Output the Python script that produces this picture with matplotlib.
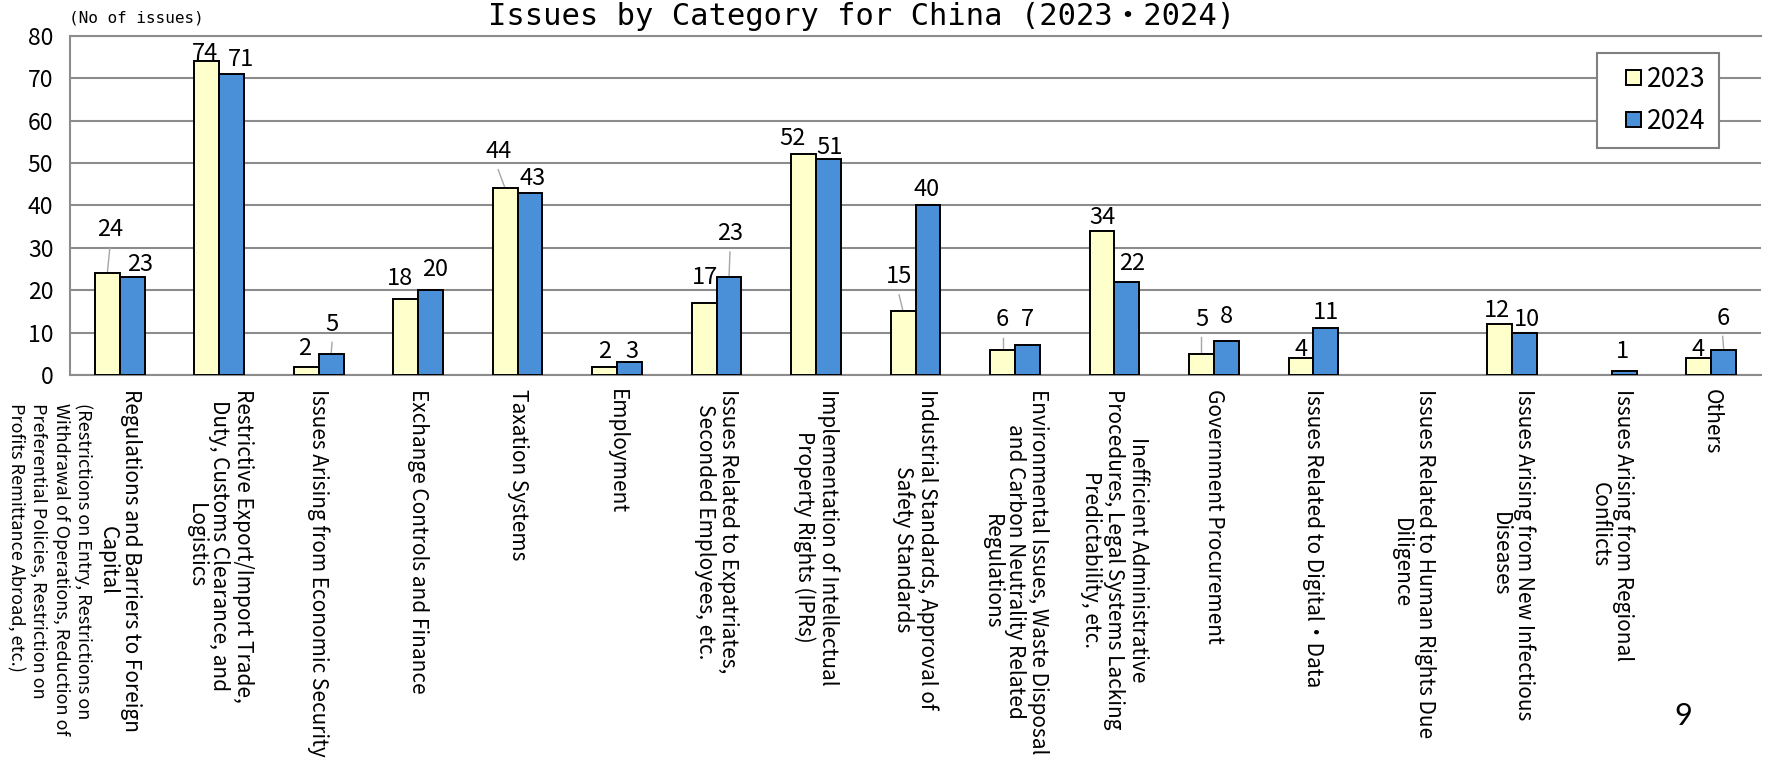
import numpy as np
import matplotlib.pyplot as plt
from matplotlib.patches import Rectangle
from matplotlib.legend_handler import HandlerPatch
from matplotlib.transforms import blended_transform_factory

plt.rcParams['font.family'] = ['Noto Sans CJK JP', 'DejaVu Sans']
MONO = ['DejaVu Sans Mono', 'Noto Sans CJK JP']

categories = [
    "Regulations and Barriers to Foreign\nCapital",
    "Restrictive Export/Import Trade,\nDuty, Customs Clearance, and\nLogistics",
    "Issues Arising from Economic Security",
    "Exchange Controls and Finance",
    "Taxation Systems",
    "Employment",
    "Issues Related to Expatriates,\nSeconded Employees, etc.",
    "Implementation of Intellectual\nProperty Rights (IPRs)",
    "Industrial Standards, Approval of\nSafety Standards",
    "Environmental Issues, Waste Disposal\nand Carbon Neutrality Related\nRegulations",
    "Inefficient Administrative\nProcedures, Legal Systems Lacking\nPredictability, etc.",
    "Government Procurement",
    "Issues Related to Digital・Data",
    "Issues Related to Human Rights Due\nDiligence",
    "Issues Arising from New Infectious\nDiseases",
    "Issues Arising from Regional\nConflicts",
    "Others",
]
first_note = ("(Restrictions on Entry, Restrictions on\n"
              "Withdrawal of Operations, Reduction of\n"
              "Preferential Policies, Restriction on\n"
              "Profits Remittance Abroad, etc.)")

issues_2023 = [24, 74, 2, 18, 44, 2, 17, 52, 15, 6, 34, 5, 4, np.nan, 12, np.nan, 4]
issues_2024 = [23, 71, 5, 20, 43, 3, 23, 51, 40, 7, 22, 8, 11, np.nan, 10, 1, 6]

# value labels: height above the bar top (data units) and sideways nudge (px)
lift_2023 = [10.2, 1.9, 4.3, 4.8, 8.7, 3.5, 6.0, 3.8, 8.2, 7.0, 3.1, 8.2, 2.1, 0, 3.2, 0, 2.1]
lift_2024 = [3.1, 3.3, 7.0, 4.8, 3.3, 2.5, 10.3, 2.7, 3.8, 6.0, 4.3, 5.8, 3.7, 0, 3.1, 4.5, 7.4]
nudge_2023 = [2.5, -2, -1.5, -5.5, -7, 0, 1, -11.5, -4, 0, 0, 0, 0, 0, -3, 0, -1]
nudge_2024 = [7.5, 9, 1, 5, 2.5, 2, 1, 1, -1.6, 0, 5, 0, 0, 0, 2.4, -1.4, -1]

W, H = 1767, 759
fig = plt.figure(figsize=(W / 100, H / 100), dpi=100)
ax_l, ax_r, ax_t, ax_b = 70, 1761, 35.7, 375
ax = fig.add_axes([ax_l / W, 1 - ax_b / H, (ax_r - ax_l) / W, (ax_b - ax_t) / H])

x = np.arange(len(categories))
bw = 0.25
bars_23 = ax.bar(x - bw / 2, issues_2023, bw, color='#FFFFCC', edgecolor='black',
                 linewidth=1.4, zorder=3)
bars_24 = ax.bar(x + bw / 2, issues_2024, bw, color='#4A90D9', edgecolor='black',
                 linewidth=1.4, zorder=3)

ax.set_xlim(-0.5, len(categories) - 0.5)
ax.set_ylim(0, 80)
ax.set_yticks(range(0, 81, 10))
ax.set_xticks([])
ax.tick_params(axis='y', length=0, pad=12, labelsize=16.5)
ax.yaxis.grid(True, color='#8c8c8c', linewidth=1.5)
ax.set_axisbelow(True)
for side in ['left', 'bottom', 'top']:
    ax.spines[side].set_color('#8c8c8c')
    ax.spines[side].set_linewidth(1.5)
ax.spines['right'].set_visible(False)

px_per_cat = (ax_r - ax_l) / len(categories)
for vals, lifts, nudges, off in [(issues_2023, lift_2023, nudge_2023, -bw / 2),
                                 (issues_2024, lift_2024, nudge_2024, bw / 2)]:
    for i, v in enumerate(vals):
        if np.isnan(v):
            continue
        xb = i + off
        xl = xb + nudges[i] / px_per_cat
        yl = v + lifts[i]
        ax.text(xl, yl, f'{int(v)}', ha='center', va='center', fontsize=17, zorder=4)
        if lifts[i] > 6.5:
            ax.plot([xb, xl], [v, yl - 4.3], color='#a6a6a6', lw=1, zorder=2)

# category names, rotated to read downwards under each pair of bars
trans = blended_transform_factory(ax.transData, fig.transFigure)
for i, name in enumerate(categories):
    ax.text(i, 1 - 389 / H, name, rotation=270, ha='center', va='top',
            multialignment='center', fontsize=15, linespacing=1.08,
            transform=trans, clip_on=False)
ax.text((93 - ax_l) / px_per_cat - 0.5, 1 - 403 / H, first_note, rotation=270,
        ha='right', va='top', multialignment='left', fontsize=13.0,
        linespacing=1.33, transform=trans, clip_on=False)


def square_right(legend, orig_handle, xdescent, ydescent, width, height, fontsize):
    # small square pushed to the right end of the handle box
    return Rectangle((-xdescent + width - height, -ydescent), height, height)


leg = ax.legend([bars_23.patches[0], bars_24.patches[0]], ['2023', '2024'],
                handler_map={Rectangle: HandlerPatch(patch_func=square_right)},
                loc='upper right', bbox_to_anchor=(1719 / W, 1 - 53 / H),
                bbox_transform=fig.transFigure, borderaxespad=0, fontsize=19,
                fancybox=False, framealpha=1, edgecolor='#808080',
                handlelength=1.15, handleheight=0.48, handletextpad=0.25,
                labelspacing=0.55, borderpad=0.5)
leg.get_frame().set_linewidth(1.5)

fig.text(862 / W, 1 - 25 / H, 'Issues by Category for China (2023・2024)',
         ha='center', va='baseline', fontsize=22, family=MONO)
fig.text(69 / W, 1 - 18 / H, '(No of issues)', ha='left', va='center',
         fontsize=11.5, family=MONO)
fig.text(1683 / W, 1 - 716 / H, '9', ha='center', va='center', fontsize=22, family='Lato')

fig.savefig('out.png', dpi=100)
